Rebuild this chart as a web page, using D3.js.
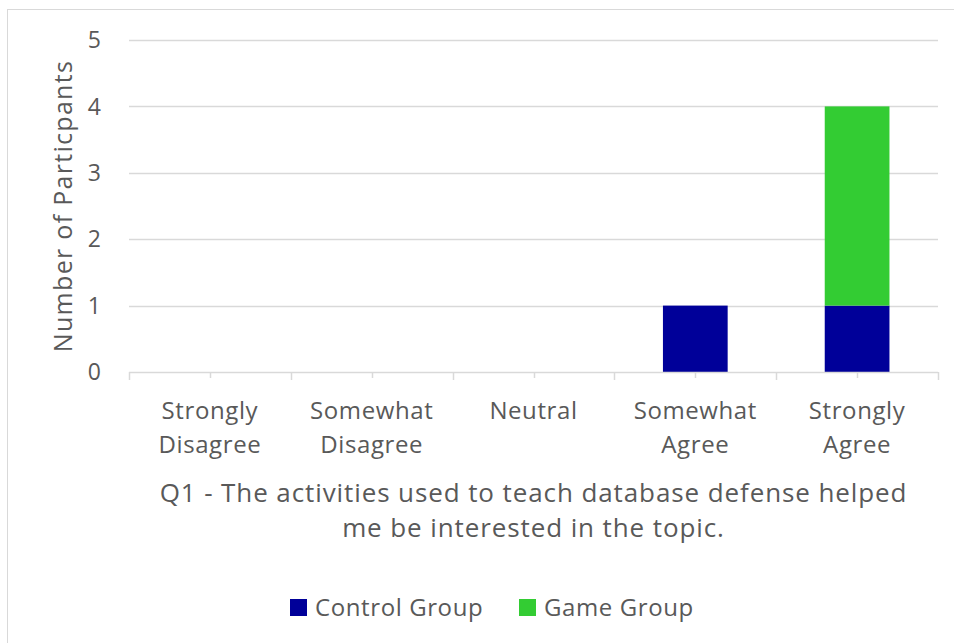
<!DOCTYPE html>
<html lang="en">
<head>
<meta charset="utf-8">
<title>Q1 stacked bars</title>
<script src="https://d3js.org/d3.v7.min.js"></script>
<style>
  body { margin: 0; background: #fff; }
  text { font-family: "Open Sans", "Noto Sans", sans-serif; fill: #595959; }
</style>
</head>
<body>
<script>
// data
var categories = ["Strongly Disagree", "Somewhat Disagree", "Neutral", "Somewhat Agree", "Strongly Agree"];
var catLines = [["Strongly", "Disagree"], ["Somewhat", "Disagree"], ["Neutral"], ["Somewhat", "Agree"], ["Strongly", "Agree"]];
var controlGroup = [0, 0, 0, 1, 1];
var gameGroup = [0, 0, 0, 0, 3];
var seriesNames = ["Control Group", "Game Group"];
var seriesColors = ["#000099", "#33cc33"];
var yTicks = [0, 1, 2, 3, 4, 5];
var xTitle = ["Q1 - The activities used to teach database defense helped", "me be interested in the topic."];
var yTitle = "Number of Particpants";

var width = 954, height = 643;
var plot = {left: 129, right: 938, top: 40, bottom: 372};

var svg = d3.select("body").append("svg")
    .attr("width", width)
    .attr("height", height);

// chart border
svg.append("rect")
    .attr("x", 7.5).attr("y", 9.5)
    .attr("width", 960).attr("height", 660)
    .attr("fill", "none")
    .attr("stroke", "#d9d9d9");

var x = d3.scaleBand().domain(categories).range([plot.left, plot.right]).paddingInner(0.6).paddingOuter(0.3);
var xOuter = d3.scaleBand().domain(categories).range([plot.left, plot.right]);
var y = d3.scaleLinear().domain([0, 5]).range([plot.bottom, plot.top]);

// gridlines
svg.append("g").selectAll("line")
    .data(yTicks.filter(function(d) { return d > 0; }))
    .enter().append("line")
    .attr("x1", plot.left).attr("x2", plot.right)
    .attr("y1", function(d) { return Math.round(y(d)) + 0.5; })
    .attr("y2", function(d) { return Math.round(y(d)) + 0.5; })
    .attr("stroke", "#d9d9d9")
    .attr("stroke-width", 1.5);

// stacked bars
var rows = categories.map(function(c, i) {
    return {cat: c, control: controlGroup[i], game: gameGroup[i]};
});
var stack = d3.stack().keys(["control", "game"])(rows);

svg.append("g").selectAll("g")
    .data(stack)
    .enter().append("g")
    .attr("fill", function(d, i) { return seriesColors[i]; })
    .selectAll("rect")
    .data(function(d) { return d; })
    .enter().append("rect")
    .attr("x", function(d) { return x(d.data.cat); })
    .attr("width", x.bandwidth())
    .attr("y", function(d) { return y(d[1]); })
    .attr("height", function(d) { return y(d[0]) - y(d[1]); });

// x axis line and ticks
var ax = svg.append("g");
ax.append("line")
    .attr("x1", plot.left).attr("x2", plot.right)
    .attr("y1", plot.bottom + 0.5).attr("y2", plot.bottom + 0.5)
    .attr("stroke", "#d9d9d9").attr("stroke-width", 1.5);
var bounds = categories.map(function(c) { return xOuter(c); }).concat([plot.right]);
ax.selectAll(".tb").data(bounds).enter().append("line")
    .attr("x1", function(d) { return Math.round(d) + 0.5; })
    .attr("x2", function(d) { return Math.round(d) + 0.5; })
    .attr("y1", plot.bottom).attr("y2", plot.bottom + 8)
    .attr("stroke", "#d9d9d9").attr("stroke-width", 1.5);
ax.selectAll(".tc").data(categories).enter().append("line")
    .attr("x1", function(d) { return Math.round(xOuter(d) + xOuter.bandwidth() / 2) + 0.5; })
    .attr("x2", function(d) { return Math.round(xOuter(d) + xOuter.bandwidth() / 2) + 0.5; })
    .attr("y1", plot.bottom).attr("y2", plot.bottom + 6)
    .attr("stroke", "#d9d9d9").attr("stroke-width", 1.5);

// category labels
categories.forEach(function(c, i) {
    var cx = xOuter(c) + xOuter.bandwidth() / 2;
    var t = svg.append("text")
        .attr("y", 419)
        .attr("text-anchor", "middle")
        .attr("font-size", "24px")
        .attr("letter-spacing", "0.6px");
    catLines[i].forEach(function(line, j) {
        t.append("tspan")
            .attr("x", cx)
            .attr("dy", j === 0 ? 0 : 34)
            .text(line);
    });
});

// y tick labels
svg.append("g").selectAll("text")
    .data(yTicks)
    .enter().append("text")
    .attr("x", 101)
    .attr("y", function(d) { return y(d); })
    .attr("dy", "0.36em")
    .attr("text-anchor", "end")
    .attr("font-size", "23px")
    .text(function(d) { return d; });

// y axis title
svg.append("text")
    .attr("transform", "translate(72,206) rotate(-90)")
    .attr("text-anchor", "middle")
    .attr("font-size", "25px")
    .attr("letter-spacing", "1.3px")
    .text(yTitle);

// x axis title
xTitle.forEach(function(line, i) {
    svg.append("text")
        .attr("x", (plot.left + plot.right) / 2)
        .attr("y", 502 + i * 35)
        .attr("text-anchor", "middle")
        .attr("font-size", "26px")
        .attr("letter-spacing", "0.9px")
        .text(line);
});

// legend
var legendX = [290, 519];
seriesNames.forEach(function(name, i) {
    var g = svg.append("g").attr("transform", "translate(" + legendX[i] + ",599)");
    g.append("rect").attr("width", 17).attr("height", 17).attr("fill", seriesColors[i]);
    g.append("text").attr("x", 25).attr("y", 8.5).attr("dy", "0.36em")
        .attr("font-size", "24px").attr("letter-spacing", "0.6px").text(name);
});
</script>
</body>
</html>
